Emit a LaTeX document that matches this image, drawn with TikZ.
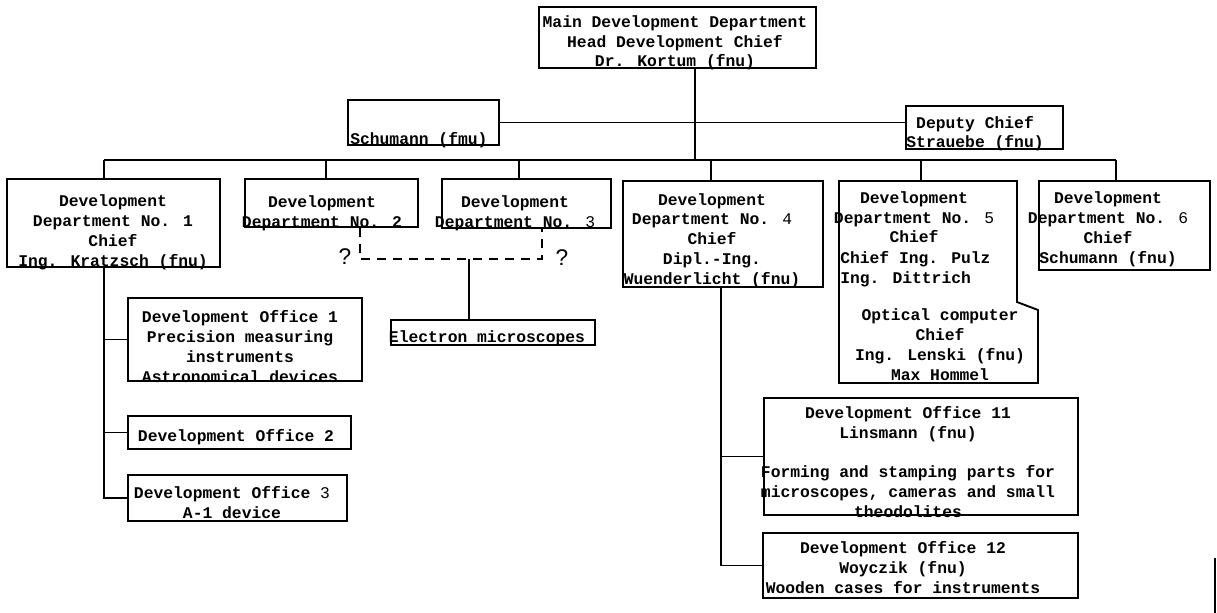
\documentclass[tikz,border=0pt]{standalone}
\usepackage{fontspec}
\newfontfamily\tw{Liberation Mono}
\newfontfamily\hand{Liberation Sans}
\usetikzlibrary{fit}
\begin{document}
\begin{tikzpicture}[x=0.75pt,y=-0.75pt,
  box/.style={draw, line width=1.4pt, inner sep=0pt},
  conn/.style={line width=1.4pt},
  dconn/.style={line width=1.2pt, dash pattern=on 7pt off 5pt},
  lbl/.style={font=\tw\bfseries\fontsize{12.25}{14.8}\selectfont, inner sep=0pt, anchor=base, align=center},
  qm/.style={font=\hand\fontsize{17}{19}\selectfont, inner sep=0pt}]
\useasboundingbox (0,0) rectangle (1217,613);

% boxes
\node[box, fit={(539,7) (816,68)}] (top) {};
\node[box, fit={(348,100) (499,145)}] (schu) {};
\node[box, fit={(906,106) (1063,149)}] (dep) {};
\node[box, fit={(7,179) (220,267)}] (d1) {};
\node[box, fit={(245,179) (418,227)}] (d2) {};
\node[box, fit={(442,179) (611,228)}] (d3) {};
\node[box, fit={(623,181) (823,287)}] (d4) {};
\draw[line width=1.4pt] (839,181) -- (1017,181) -- (1017,302) -- (1038,310) -- (1038,383) -- (839,383) -- cycle;
\coordinate (d5top) at (921,181);
\node[box, fit={(1039,181) (1210,270)}] (d6) {};
\node[box, fit={(391,320) (595,345)}] (em) {};
\node[box, fit={(128,298) (362,381)}] (o1) {};
\node[box, fit={(128,416) (351,449)}] (o2) {};
\node[box, fit={(128,475) (347,521)}] (o3) {};
\node[box, fit={(764,398) (1078,515)}] (o11) {};
\node[box, fit={(763,533) (1078,598)}] (o12) {};

% connectors
\coordinate (busL) at (104,160);
\coordinate (busR) at (1116,160);
\coordinate (tx) at (695,160);
\coordinate (t2) at (326,160);
\coordinate (t3) at (519,160);
\coordinate (t4) at (711,160);
\coordinate (t5) at (921,160);
\draw[conn] (busL) -- (busR);
\draw[conn] (tx |- top.south) -- (tx);
\draw[conn] (schu.east) -- (schu.east -| dep.west);
\draw[conn] (busL) -- (busL |- d1.north);
\draw[conn] (t2) -- (t2 |- d2.north);
\draw[conn] (t3) -- (t3 |- d3.north);
\draw[conn] (t4) -- (t4 |- d4.north);
\draw[conn] (t5) -- (d5top);
\draw[conn] (busR) -- (busR |- d6.north);

\coordinate (v1) at (104,300);
\draw[conn] (v1 |- d1.south) -- (v1 |- o3.west) -- (o3.west);
\draw[conn] (v1 |- o1.west) -- (o1.west);
\draw[conn] (v1 |- o2.west) -- (o2.west);

\coordinate (v4) at (721,400);
\draw[conn] (v4 |- d4.south) -- (v4 |- o12.west) -- (o12.west);
\draw[conn] (v4 |- o11.west) -- (o11.west);

\coordinate (dl) at (360,259);
\coordinate (dr) at (542,259);
\coordinate (ej) at (469,259);
\draw[dconn] (dl |- d2.south) -- (dl) -- (dr) -- (dr |- d3.south);
\draw[conn] (ej) -- (ej |- em.north);

\node[qm] (q1) at (345,257) {?};
\node[qm] (q2) at (562,258) {?};

\draw[line width=1pt] (1215,558) -- (1215,613);

% labels (anchor=base = baseline of the last line)
\node[lbl] (tTop) at (675,67) {Main Development Department\\Head Development Chief\\Dr. Kortum (fnu)};
\node[lbl, anchor=base west] (tSchu) at (350,145) {Schumann (fmu)};
\node[lbl] (tDep) at (975,148) {Deputy Chief\\Strauebe (fnu)};
\node[lbl] (tD1) at (113,266) {Development\\Department No. 1\\Chief\\Ing. Kratzsch (fnu)};
\node[lbl] (tD2) at (322,227) {Development\\Department No. 2};
\node[lbl] (tD3) at (515,227) {Development\\Department No. {\mdseries 3}};
\node[lbl] (tD4) at (712,284) {Development\\Department No. {\mdseries 4}\\Chief\\Dipl.-Ing.\\Wuenderlicht (fnu)};
\node[lbl] (tD5a) at (914,243) {Development\\Department No. {\mdseries 5}\\Chief};
\node[lbl, anchor=base west, align=left] (tD5b) at (840,283) {Chief Ing. Pulz\\Ing. Dittrich};
\node[lbl] (tD5c) at (940,380) {Optical computer\\Chief\\Ing. Lenski (fnu)\\Max Hommel};
\node[lbl] (tD6) at (1108,263) {Development\\Department No. {\mdseries 6}\\Chief\\Schumann (fnu)};
\node[lbl] (tEm) at (487,342) {Electron microscopes};
\node[lbl] (tO1) at (240,382) {Development Office 1\\Precision measuring\\instruments\\Astronomical devices};
\node[lbl] (tO2) at (236,441) {Development Office 2};
\node[lbl] (tO3) at (232,518) {Development Office {\mdseries 3}\\A-1 device};
\node[lbl] (tO11) at (908,517) {Development Office 11\\Linsmann (fnu)\\[14.8pt]Forming and stamping parts for\\microscopes, cameras and small\\theodolites};
\node[lbl] (tO12) at (903,593) {Development Office 12\\Woyczik (fnu)\\Wooden cases for instruments};
\end{tikzpicture}
\end{document}
